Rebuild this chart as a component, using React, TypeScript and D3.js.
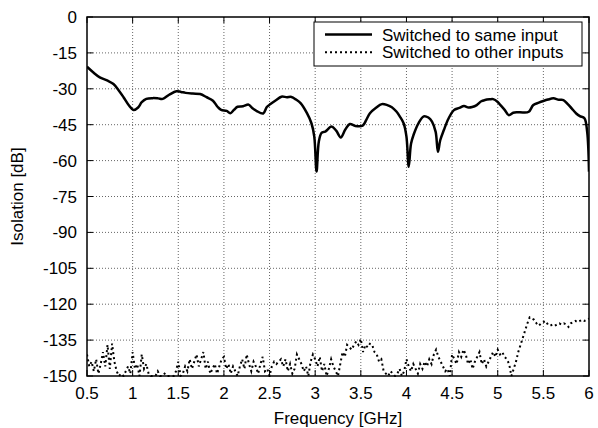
import React from "react";
import * as d3 from "d3";

const xTicks = [0.5, 1, 1.5, 2, 2.5, 3, 3.5, 4, 4.5, 5, 5.5, 6];
const yTicks = [0, -15, -30, -45, -60, -75, -90, -105, -120, -135, -150];

const seriesNames = ["Switched to same input", "Switched to other inputs"];

// Switched to same input: [GHz, dB]
const sameInput: [number, number][] = [
  [0.5, -20.8], [0.57, -23.2], [0.64, -25.2], [0.72, -26.5], [0.79, -28], [0.85, -30.8],
  [0.9, -33.5], [0.96, -37], [1.01, -38.9], [1.06, -37.8], [1.1, -35.6], [1.15, -34.2],
  [1.22, -33.9], [1.28, -34], [1.33, -34.2], [1.4, -32.5], [1.48, -31], [1.53, -31.3],
  [1.58, -31.7], [1.66, -32], [1.74, -32.2], [1.81, -33.5], [1.88, -35], [1.93, -37.5],
  [1.97, -38.8], [2.03, -39.2], [2.07, -40.2], [2.11, -38.8], [2.15, -37.5], [2.21, -37.3],
  [2.27, -36.6], [2.31, -38], [2.36, -39.3], [2.43, -40.3], [2.47, -37.6], [2.51, -36.4],
  [2.57, -34.8], [2.63, -33.3], [2.69, -33.5], [2.74, -33.4], [2.79, -34.5], [2.84, -36],
  [2.91, -40.2], [2.96, -44.5], [2.99, -50], [3.015, -64.6], [3.04, -52], [3.07, -48.4],
  [3.11, -47.9], [3.18, -45.8], [3.23, -47.5], [3.28, -50.3], [3.33, -47], [3.38, -44.7],
  [3.44, -45.5], [3.52, -45.4], [3.56, -43], [3.6, -40.2], [3.67, -37.8], [3.73, -36.4],
  [3.79, -36.8], [3.84, -37.7], [3.89, -39.5], [3.93, -41.7], [3.97, -44.5], [4.0, -50],
  [4.025, -62.6], [4.05, -53], [4.08, -49], [4.13, -44.5], [4.19, -41.5], [4.24, -42],
  [4.28, -43.7], [4.32, -48], [4.345, -56.3], [4.37, -51.5], [4.41, -47.2], [4.46, -42.5],
  [4.52, -38.9], [4.58, -38], [4.63, -37.2], [4.68, -37.8], [4.72, -37.6], [4.77, -36.8],
  [4.82, -35.2], [4.86, -34.7], [4.91, -34.4], [4.95, -34.3], [5.0, -35.5], [5.03, -36.8],
  [5.08, -39], [5.12, -41], [5.17, -40], [5.21, -39.8], [5.28, -39.9], [5.34, -39.6],
  [5.39, -36.8], [5.45, -35.8], [5.5, -35.1], [5.55, -34.5], [5.61, -34], [5.67, -34.6],
  [5.72, -34.7], [5.77, -36.5], [5.81, -38.2], [5.86, -40.3], [5.9, -41.4], [5.95, -42.3],
  [5.98, -48], [6.0, -64.6],
];

// Switched to other inputs: dB values on a 0.025 GHz sweep from 0.5 to 6.0
const otherInputs: number[] = [
  -141, -146, -144, -148, -143, -149, -145, -140,
  -146, -137, -147, -136.5, -144, -148, -150, -149,
  -150, -148, -146, -149, -140, -147, -145, -150,
  -141, -147, -145, -149, -150, -150, -150, -148,
  -150, -150, -149, -150, -150, -150, -150, -148,
  -144, -150, -149, -146, -148, -143, -147, -144,
  -141, -146, -143, -140, -147, -144, -149, -147,
  -145, -149, -146, -143, -142, -147, -145, -149,
  -146, -148, -150, -146, -143, -147, -141, -145,
  -148, -144, -146, -149, -145, -142, -148, -147,
  -150, -146, -144, -145, -144, -143, -146, -143,
  -148, -145, -149, -147, -141, -143, -145, -148,
  -146, -150, -144, -141, -143, -146, -142, -148,
  -145, -150, -147, -143, -146, -148, -150, -145,
  -140, -142, -137, -138, -139, -137, -135.5, -137,
  -134.5, -140, -137, -138, -136.5, -137, -140, -141,
  -144, -143, -148, -149, -150, -148, -149, -150,
  -149, -147, -150, -148, -143, -146, -148, -145,
  -147, -149, -145, -147, -144, -146, -143, -145,
  -141, -139, -142, -144, -146, -148, -147, -150,
  -141, -143, -145, -140, -142, -139, -141, -145,
  -143, -147, -144, -142, -140, -145, -143, -146,
  -144, -142, -140, -142, -139, -141, -140, -142,
  -143, -145, -150, -147, -144, -140, -137, -134,
  -131, -128, -125.5, -126, -126.5, -128, -129, -128,
  -127.5, -127, -128.5, -129, -128.5, -129, -128.5, -128,
  -128.5, -128, -128.5, -129.5, -128, -127.5, -127, -127.5,
  -127, -126.5, -127, -126.5, -126,
];
const sweepStart = 0.5;
const sweepStep = 0.025;

const W = 598;
const H = 428;
const M = { left: 87, right: 589, top: 17, bottom: 376 };
const FONT = "'Liberation Sans', Arial, sans-serif";
const FS = 17;

export default function App() {
  const x = d3.scaleLinear().domain([0.5, 6]).range([M.left, M.right]);
  const y = d3.scaleLinear().domain([-150, 0]).range([M.bottom, M.top]);

  const solidPath = d3
    .line<[number, number]>()
    .x((d) => x(d[0]))
    .y((d) => y(d[1]))
    .curve(d3.curveCatmullRom.alpha(0.5))(sameInput) || "";

  const otherData: [number, number][] = otherInputs.map((v, i) => [sweepStart + i * sweepStep, v]);
  const dottedPath = d3
    .line<[number, number]>()
    .x((d) => x(d[0]))
    .y((d) => y(Math.max(-150, d[1])))(otherData) || "";

  const tickLen = 6;
  const lx0 = 314, lx1 = 582, ly0 = 22, ly1 = 66;

  return (
    <svg
      width={W}
      height={H}
      style={{ position: "absolute", left: 0, top: 0, background: "#fff" }}
      fontFamily={FONT}
    >
      <rect x={0} y={0} width={W} height={H} fill="#fff" />
      <defs>
        <clipPath id="plotclip">
          <rect x={M.left} y={M.top} width={M.right - M.left} height={M.bottom - M.top + 1} />
        </clipPath>
      </defs>

      {/* grid */}
      <g stroke="#666" strokeWidth={1} strokeDasharray="1,2">
        {xTicks.slice(1, -1).map((t) => (
          <line key={"gx" + t} x1={x(t)} x2={x(t)} y1={M.top} y2={M.bottom} />
        ))}
        {yTicks.slice(1, -1).map((t) => (
          <line key={"gy" + t} x1={M.left} x2={M.right} y1={y(t)} y2={y(t)} />
        ))}
      </g>

      {/* ticks */}
      <g stroke="#000" strokeWidth={1}>
        {xTicks.map((t) => (
          <g key={"tx" + t}>
            <line x1={x(t)} x2={x(t)} y1={M.bottom} y2={M.bottom - tickLen} />
            <line x1={x(t)} x2={x(t)} y1={M.top} y2={M.top + tickLen} />
          </g>
        ))}
        {yTicks.map((t) => (
          <g key={"ty" + t}>
            <line x1={M.left} x2={M.left + tickLen} y1={y(t)} y2={y(t)} />
            <line x1={M.right} x2={M.right - tickLen} y1={y(t)} y2={y(t)} />
          </g>
        ))}
      </g>

      {/* series */}
      <g clipPath="url(#plotclip)">
        <path d={dottedPath} fill="none" stroke="#000" strokeWidth={2} strokeDasharray="2,3" />
        <path d={solidPath} fill="none" stroke="#000" strokeWidth={2.5} strokeLinejoin="round" />
      </g>

      {/* frame */}
      <rect
        x={M.left}
        y={M.top}
        width={M.right - M.left}
        height={M.bottom - M.top}
        fill="none"
        stroke="#000"
        strokeWidth={1.5}
      />

      {/* tick labels */}
      <g fontSize={FS} fill="#000">
        {xTicks.map((t) => (
          <text key={"lx" + t} x={x(t)} y={398.5} textAnchor="middle">
            {String(t)}
          </text>
        ))}
        {yTicks.map((t) => (
          <text key={"ly" + t} x={77} y={y(t) + 6} textAnchor="end">
            {String(t)}
          </text>
        ))}
      </g>

      {/* axis titles */}
      <text x={(M.left + M.right) / 2} y={424} textAnchor="middle" fontSize={FS}>
        Frequency [GHz]
      </text>
      <text
        transform={`translate(23,${(M.top + M.bottom) / 2}) rotate(-90)`}
        textAnchor="middle"
        fontSize={FS}
      >
        Isolation [dB]
      </text>

      {/* legend */}
      <rect x={lx0} y={ly0} width={lx1 - lx0} height={ly1 - ly0} fill="#fff" stroke="#000" strokeWidth={1} />
      <line x1={325} x2={372} y1={34.5} y2={34.5} stroke="#000" strokeWidth={2.5} />
      <line x1={325} x2={372} y1={52.3} y2={52.3} stroke="#000" strokeWidth={2} strokeDasharray="2,3" />
      <text x={382} y={40.5} fontSize={FS}>
        {seriesNames[0]}
      </text>
      <text x={382} y={58} fontSize={FS}>
        {seriesNames[1]}
      </text>
    </svg>
  );
}
